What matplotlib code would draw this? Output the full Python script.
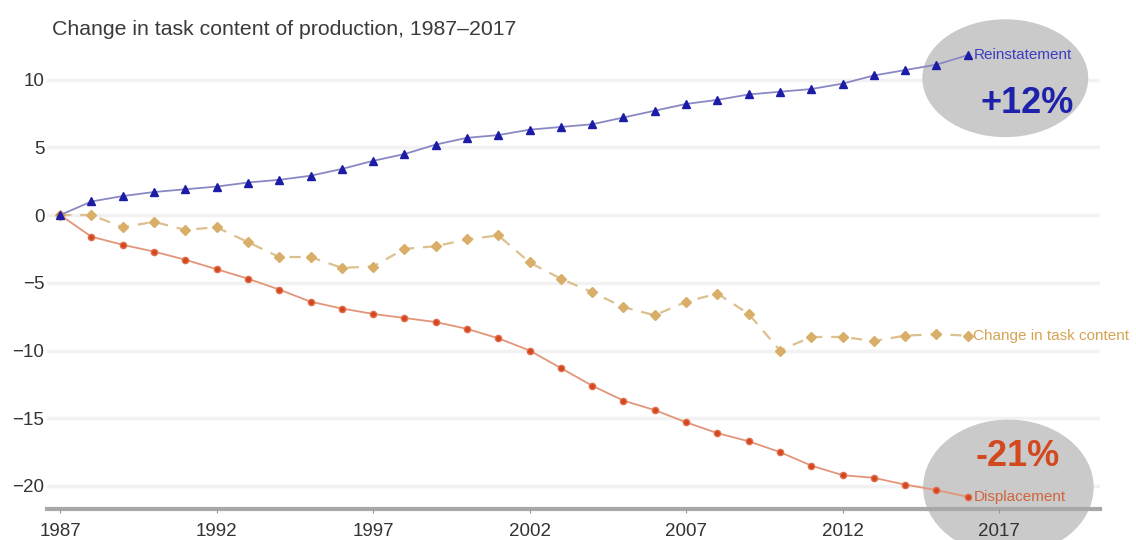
import numpy as np
import matplotlib
matplotlib.use('Agg')
import matplotlib.pyplot as plt
from matplotlib.patches import Ellipse

plt.rcParams['font.family'] = ['Liberation Sans', 'DejaVu Sans']

years = list(range(1987, 2017))

# cumulative change, percent of 1987 level
reinstatement = [0.0, 1.0, 1.4, 1.7, 1.9, 2.1, 2.4, 2.6, 2.9, 3.4,
                 4.0, 4.5, 5.2, 5.7, 5.9, 6.3, 6.5, 6.7, 7.2, 7.7,
                 8.2, 8.5, 8.9, 9.1, 9.3, 9.7, 10.3, 10.7, 11.1, 11.8]
displacement = [0.0, -1.6, -2.2, -2.7, -3.3, -4.0, -4.7, -5.5, -6.4, -6.9,
                -7.3, -7.6, -7.9, -8.4, -9.1, -10.0, -11.3, -12.6, -13.7, -14.4,
                -15.3, -16.1, -16.7, -17.5, -18.5, -19.2, -19.4, -19.9, -20.3, -20.8]
task_content = [0.0, 0.0, -0.9, -0.5, -1.1, -0.9, -2.0, -3.1, -3.1, -3.9,
                -3.8, -2.5, -2.3, -1.8, -1.5, -3.5, -4.7, -5.7, -6.8, -7.4,
                -6.4, -5.8, -7.3, -10.0, -9.0, -9.0, -9.3, -8.9, -8.8, -8.9]

x_ticks = [1987, 1992, 1997, 2002, 2007, 2012, 2017]
y_ticks = [-20, -15, -10, -5, 0, 5, 10]

fig = plt.figure(figsize=(11.36, 5.40), dpi=100)
ax = fig.add_axes([0.0414, 0.0574, 0.927, 0.861])

# faint horizontal guides, kept under the bubbles
for yv in y_ticks:
    ax.axhline(yv, color='#f2f2f2', lw=2.5, zorder=0.4)

# grey bubbles behind the end values
ax.add_patch(Ellipse((2017.2, 10.1), 5.3, 8.7, facecolor='#cacaca',
                     edgecolor='none', zorder=0.8, clip_on=False))
ax.add_patch(Ellipse((2017.3, -20.1), 5.45, 10.0, facecolor='#cacaca',
                     edgecolor='none', zorder=0.8, clip_on=False))

ax.plot(years, task_content, color='#dcc08e', lw=1.6, ls=(0, (5, 4)),
        marker='D', ms=5, mfc='#d9ae68', mec='#d9ae68', zorder=3)
ax.plot(years, displacement, color='#e3957a', lw=1.3,
        marker='o', ms=4.5, mfc='#d4461c', mec='#e07050', zorder=3)
ax.plot(years, reinstatement, color='#8a88c4', lw=1.3,
        marker='^', ms=5.5, mfc='#1c1ca6', mec='#1c1ca6', zorder=3)

ax.annotate('Reinstatement', (years[-1], reinstatement[-1]), xytext=(4, 0),
            textcoords='offset points', ha='left', va='center',
            fontsize=11, color='#3c3cc0', zorder=4)
ax.annotate('Change in task content', (years[-1], task_content[-1]), xytext=(4, 0),
            textcoords='offset points', ha='left', va='center',
            fontsize=11, color='#d4a452', zorder=4, annotation_clip=False)
ax.annotate('Displacement', (years[-1], displacement[-1]), xytext=(4, 0),
            textcoords='offset points', ha='left', va='center',
            fontsize=11, color='#d0643e', zorder=4)

ax.text(2017.9, 8.2, '+12%', ha='center', va='center', fontsize=26,
        fontweight='bold', color='#1e22aa', zorder=4)
ax.text(2017.6, -17.8, '-21%', ha='center', va='center', fontsize=26,
        fontweight='bold', color='#d2481f', zorder=4)

ax.set_xlim(1986.58, 2020.23)
ax.set_ylim(-21.7, 12.62)
ax.set_xticks(x_ticks)
ax.set_yticks(y_ticks)
ax.tick_params(axis='x', length=3, width=0.8, color='#999999', pad=7,
               labelsize=13.5, labelcolor='#333333')
ax.tick_params(axis='y', length=0, pad=2, labelsize=13.5, labelcolor='#333333')

ax.set_axisbelow(False)
for side in ['top', 'right', 'left']:
    ax.spines[side].set_visible(False)
ax.spines['bottom'].set_color('#a8a8a8')
ax.spines['bottom'].set_linewidth(3)
ax.spines['bottom'].set_zorder(2)

fig.text(0.0458, 0.946, 'Change in task content of production, 1987\u20132017',
         ha='left', va='center', fontsize=15.3, color='#3a3a3a')

plt.savefig('out.png', dpi=100)
